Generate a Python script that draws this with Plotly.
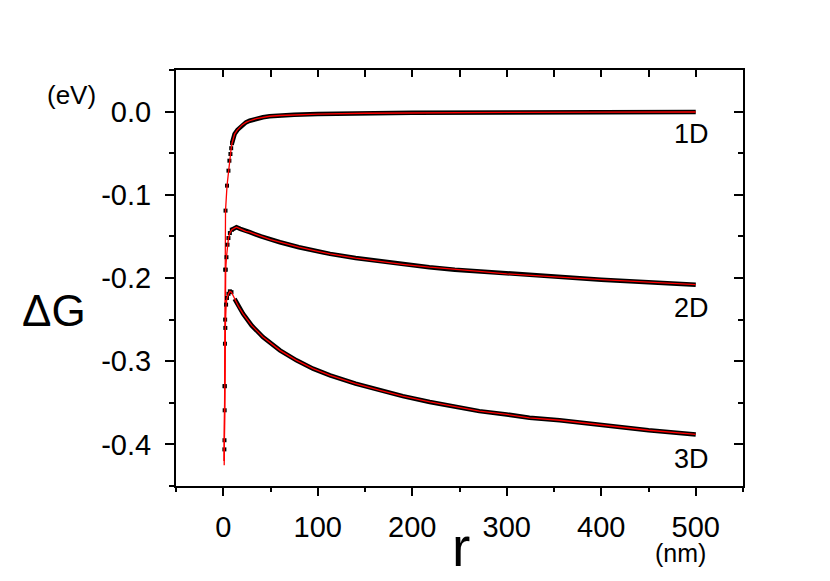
import plotly.graph_objects as go

# radius (nm) and free-energy change (eV)
r_1d = [1.0, 1.2, 1.3, 1.5, 1.8, 2.1, 2.4, 4.0, 5.5, 6.5, 7.6, 8.4, 9.3, 12, 15, 17.5, 20, 24, 28, 35, 42, 49, 60,
        75, 100, 150, 200, 300, 400, 500]
dg_1d = [-0.425, -0.406, -0.395, -0.359, -0.279, -0.19, -0.119, -0.089, -0.071, -0.059, -0.051, -0.044, -0.038,
         -0.027, -0.022, -0.019, -0.016, -0.013, -0.011, -0.0085, -0.0068, -0.0056, -0.0047,
         -0.0039, -0.003, -0.002, -0.0015, -0.001, -0.0007, -0.0005]

r_2d = [1.0, 1.5, 2.0, 2.6, 3.4, 4.5, 5.5, 7, 9, 12, 14, 18, 24, 28, 40, 50, 60, 80, 100, 113, 140, 166, 190, 218,
        245, 271, 300, 324, 356, 400, 450, 500]
dg_2d = [-0.42, -0.33, -0.25, -0.19, -0.175, -0.16, -0.152, -0.146, -0.142, -0.14, -0.139, -0.141, -0.144, -0.145,
         -0.15, -0.154, -0.157, -0.163, -0.168, -0.171, -0.176, -0.18, -0.1835, -0.187,
         -0.19, -0.192, -0.195, -0.197, -0.199, -0.202, -0.205, -0.208]

r_3d = [1.0, 1.5, 2.2, 3.0, 4.0, 5.5, 7, 8.7, 12, 16, 21, 30, 42, 60, 77.5, 95, 113, 140, 166, 190, 218.5, 245, 271,
        300, 324, 356, 400, 450, 500]
dg_3d = [-0.42, -0.33, -0.26, -0.232, -0.224, -0.219, -0.216, -0.217, -0.225, -0.234, -0.243, -0.257, -0.271, -0.287,
         -0.299, -0.309, -0.317, -0.327, -0.335, -0.342, -0.349, -0.355, -0.36, -0.364, -0.368, -0.371, -0.377,
         -0.383, -0.388]

x_ticks = [0, 100, 200, 300, 400, 500]
y_ticks = [-0.4, -0.3, -0.2, -0.1, 0.0]
y_tick_text = ["-0.4", "-0.3", "-0.2", "-0.1", "0.0"]

curves = [("1D", r_1d, dg_1d), ("2D", r_2d, dg_2d), ("3D", r_3d, dg_3d)]
label_pos = {"1D": -0.027, "2D": -0.236, "3D": -0.418}

FONT = "Liberation Sans, Arial, sans-serif"

fig = go.Figure()
for name, r, dg in curves:
    head = [i for i, v in enumerate(r) if 1.1 < v < 12]
    tail = [i for i, v in enumerate(r) if v >= 9]
    # simulated points: sparse squares near r=0, dense band afterwards
    fig.add_trace(go.Scatter(x=[r[i] for i in head], y=[dg[i] for i in head], mode="markers",
                             marker=dict(symbol="square", size=4, color="black"), showlegend=False))
    fig.add_trace(go.Scatter(x=[r[i] for i in tail], y=[dg[i] for i in tail], mode="lines",
                             line=dict(color="black", width=4.5), showlegend=False))
    # fit
    fig.add_trace(go.Scatter(x=r, y=dg, mode="lines", line=dict(color="red", width=1.3), showlegend=False))
    fig.add_annotation(x=495, y=label_pos[name], text=name, showarrow=False,
                       font=dict(size=27, color="black", family=FONT), xanchor="center", yanchor="middle")

axis_common = dict(showgrid=False, zeroline=False, showline=True, linecolor="black", linewidth=2,
                   tickcolor="black", tickwidth=1.5, automargin=False)

fig.update_layout(
    width=830, height=581,
    margin=dict(l=176, r=87, t=70, b=95),
    paper_bgcolor="white", plot_bgcolor="white",
    font=dict(family=FONT, color="black"),
    xaxis=dict(range=[-50, 550], tickvals=x_ticks, ticks="outside", ticklen=8,
               minor=dict(ticks="outside", ticklen=4, dtick=50, tick0=0, tickcolor="black", tickwidth=1.5),
               tickfont=dict(size=29), ticklabelstandoff=6, **axis_common),
    yaxis=dict(range=[-0.45, 0.05], tickvals=y_ticks, ticktext=y_tick_text, ticks="outside", ticklen=9,
               minor=dict(ticks="outside", ticklen=5, dtick=0.05, tick0=0, tickcolor="black", tickwidth=1.5),
               tickfont=dict(size=29), ticklabelstandoff=8, **axis_common),
    xaxis2=dict(range=[-50, 550], overlaying="x", side="top", tick0=0, dtick=50, ticks="inside", ticklen=7,
                showticklabels=False, **axis_common),
    yaxis2=dict(range=[-0.45, 0.05], overlaying="y", side="right", tick0=0, dtick=0.1, ticks="inside", ticklen=9,
                minor=dict(ticks="inside", ticklen=5, dtick=0.05, tick0=0, tickcolor="black", tickwidth=1.5),
                showticklabels=False, **axis_common),
)

# dummy trace so the mirrored axes are drawn
fig.add_trace(go.Scatter(x=[None], y=[None], xaxis="x2", yaxis="y2", showlegend=False, hoverinfo="skip"))

# axis titles and units
fig.add_annotation(xref="paper", yref="paper", x=(54 - 176) / 567, y=(486 - 310) / 416, text="ΔG",
                   showarrow=False, font=dict(size=44), xanchor="center", yanchor="middle")
fig.add_annotation(xref="paper", yref="paper", x=(71 - 176) / 567, y=(486 - 95) / 416, text="(eV)",
                   showarrow=False, font=dict(size=26), xanchor="center", yanchor="middle")
fig.add_annotation(xref="paper", yref="paper", x=(461 - 176) / 567, y=(486 - 547) / 416, text="r",
                   showarrow=False, font=dict(size=55), xanchor="center", yanchor="middle")
fig.add_annotation(xref="paper", yref="paper", x=(680 - 176) / 567, y=(486 - 553) / 416, text="(nm)",
                   showarrow=False, font=dict(size=25), xanchor="center", yanchor="middle")

fig.write_html("out.html", config={"displayModeBar": False},
               post_script="document.body.style.margin='0';")
